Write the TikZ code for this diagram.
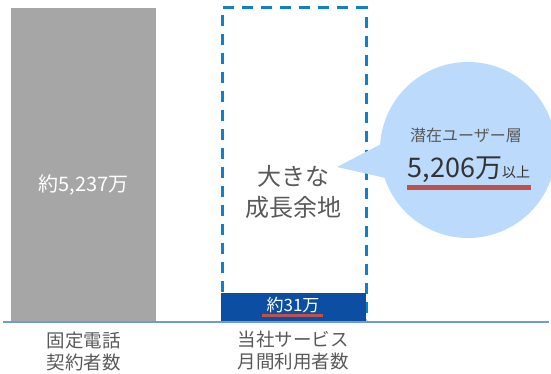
\documentclass[tikz,border=0pt]{standalone}
\usepackage{fontspec}
\setmainfont{Noto Sans CJK JP}
\usetikzlibrary{shapes.callouts}
\definecolor{bargray}{HTML}{A6A6A6}
\definecolor{ourblue}{HTML}{0B4EA2}
\definecolor{dashblue}{HTML}{1080CC}
\definecolor{axisblue}{HTML}{6F9BD5}
\definecolor{bubbleblue}{HTML}{BCDAFB}
\definecolor{textgray}{HTML}{595959}
\definecolor{markred}{HTML}{C0504D}

\begin{document}
\begin{tikzpicture}[x=1pt, y=1pt,
    bar/.style = {draw=none, inner sep=0pt, anchor=south west},
    axislabel/.style = {text=textgray, align=center, font=\fontsize{18.5}{22}\selectfont},
    redline/.style = {markred, line width=3pt}]
    \useasboundingbox (0,0) rectangle (551,374);
        % bars
        \node[bar, fill=bargray, minimum width=145pt, minimum height=314pt] (fixed) at (11,52) {};
        \node[bar, draw=dashblue, line width=2.6pt, dash pattern=on 11pt off 8pt,
              minimum width=144pt, minimum height=313pt] (room) at (221,52) {};
        \node[bar, fill=ourblue, minimum width=145pt, minimum height=30pt] (ours) at (221,51) {};
        \coordinate (axisL) at (3,51.5);
        \coordinate (axisR) at (549,51.5);
        \draw[axisblue, line width=2pt] (axisL) -- (axisR);
        % bar texts
        \node[text=white, font=\fontsize{20}{22}\selectfont] (fixedval) at (83.5,189) {約5,237万};
        \node[text=white, font=\fontsize{17}{20}\selectfont] (oursval) at (293,69) {約31万};
        \draw[redline] (262,58) -- (323,58);
        \node[text=textgray, align=center, font=\fontsize{24}{31}\selectfont] (roomtext) at (293,182) {大きな\\成長余地};
        % axis labels
        \node[axislabel] (fixedlab) at (83.5,23) {固定電話\\契約者数};
        \node[axislabel] (ourslab) at (293,23) {当社サービス\\月間利用者数};
        % bubble
        \coordinate (tip) at (337,207);
        \node[ellipse callout, fill=bubbleblue, draw=none, minimum width=176pt, minimum height=176pt,
              inner sep=0pt, callout absolute pointer=(tip), callout pointer arc=22] (bubble) at (468,224) {};
        \node[text=textgray, font=\fontsize{16}{18}\selectfont] (potential) at (466,239) {潜在ユーザー層};
        \node[text=black!80, font=\fontsize{27}{30}\selectfont] (total) at (469,204)
            {5,206万{\fontsize{14}{16}\selectfont 以上}};
        \draw[redline, line width=5pt] (407,186) -- (531,186);
    \end{tikzpicture}
\end{document}
